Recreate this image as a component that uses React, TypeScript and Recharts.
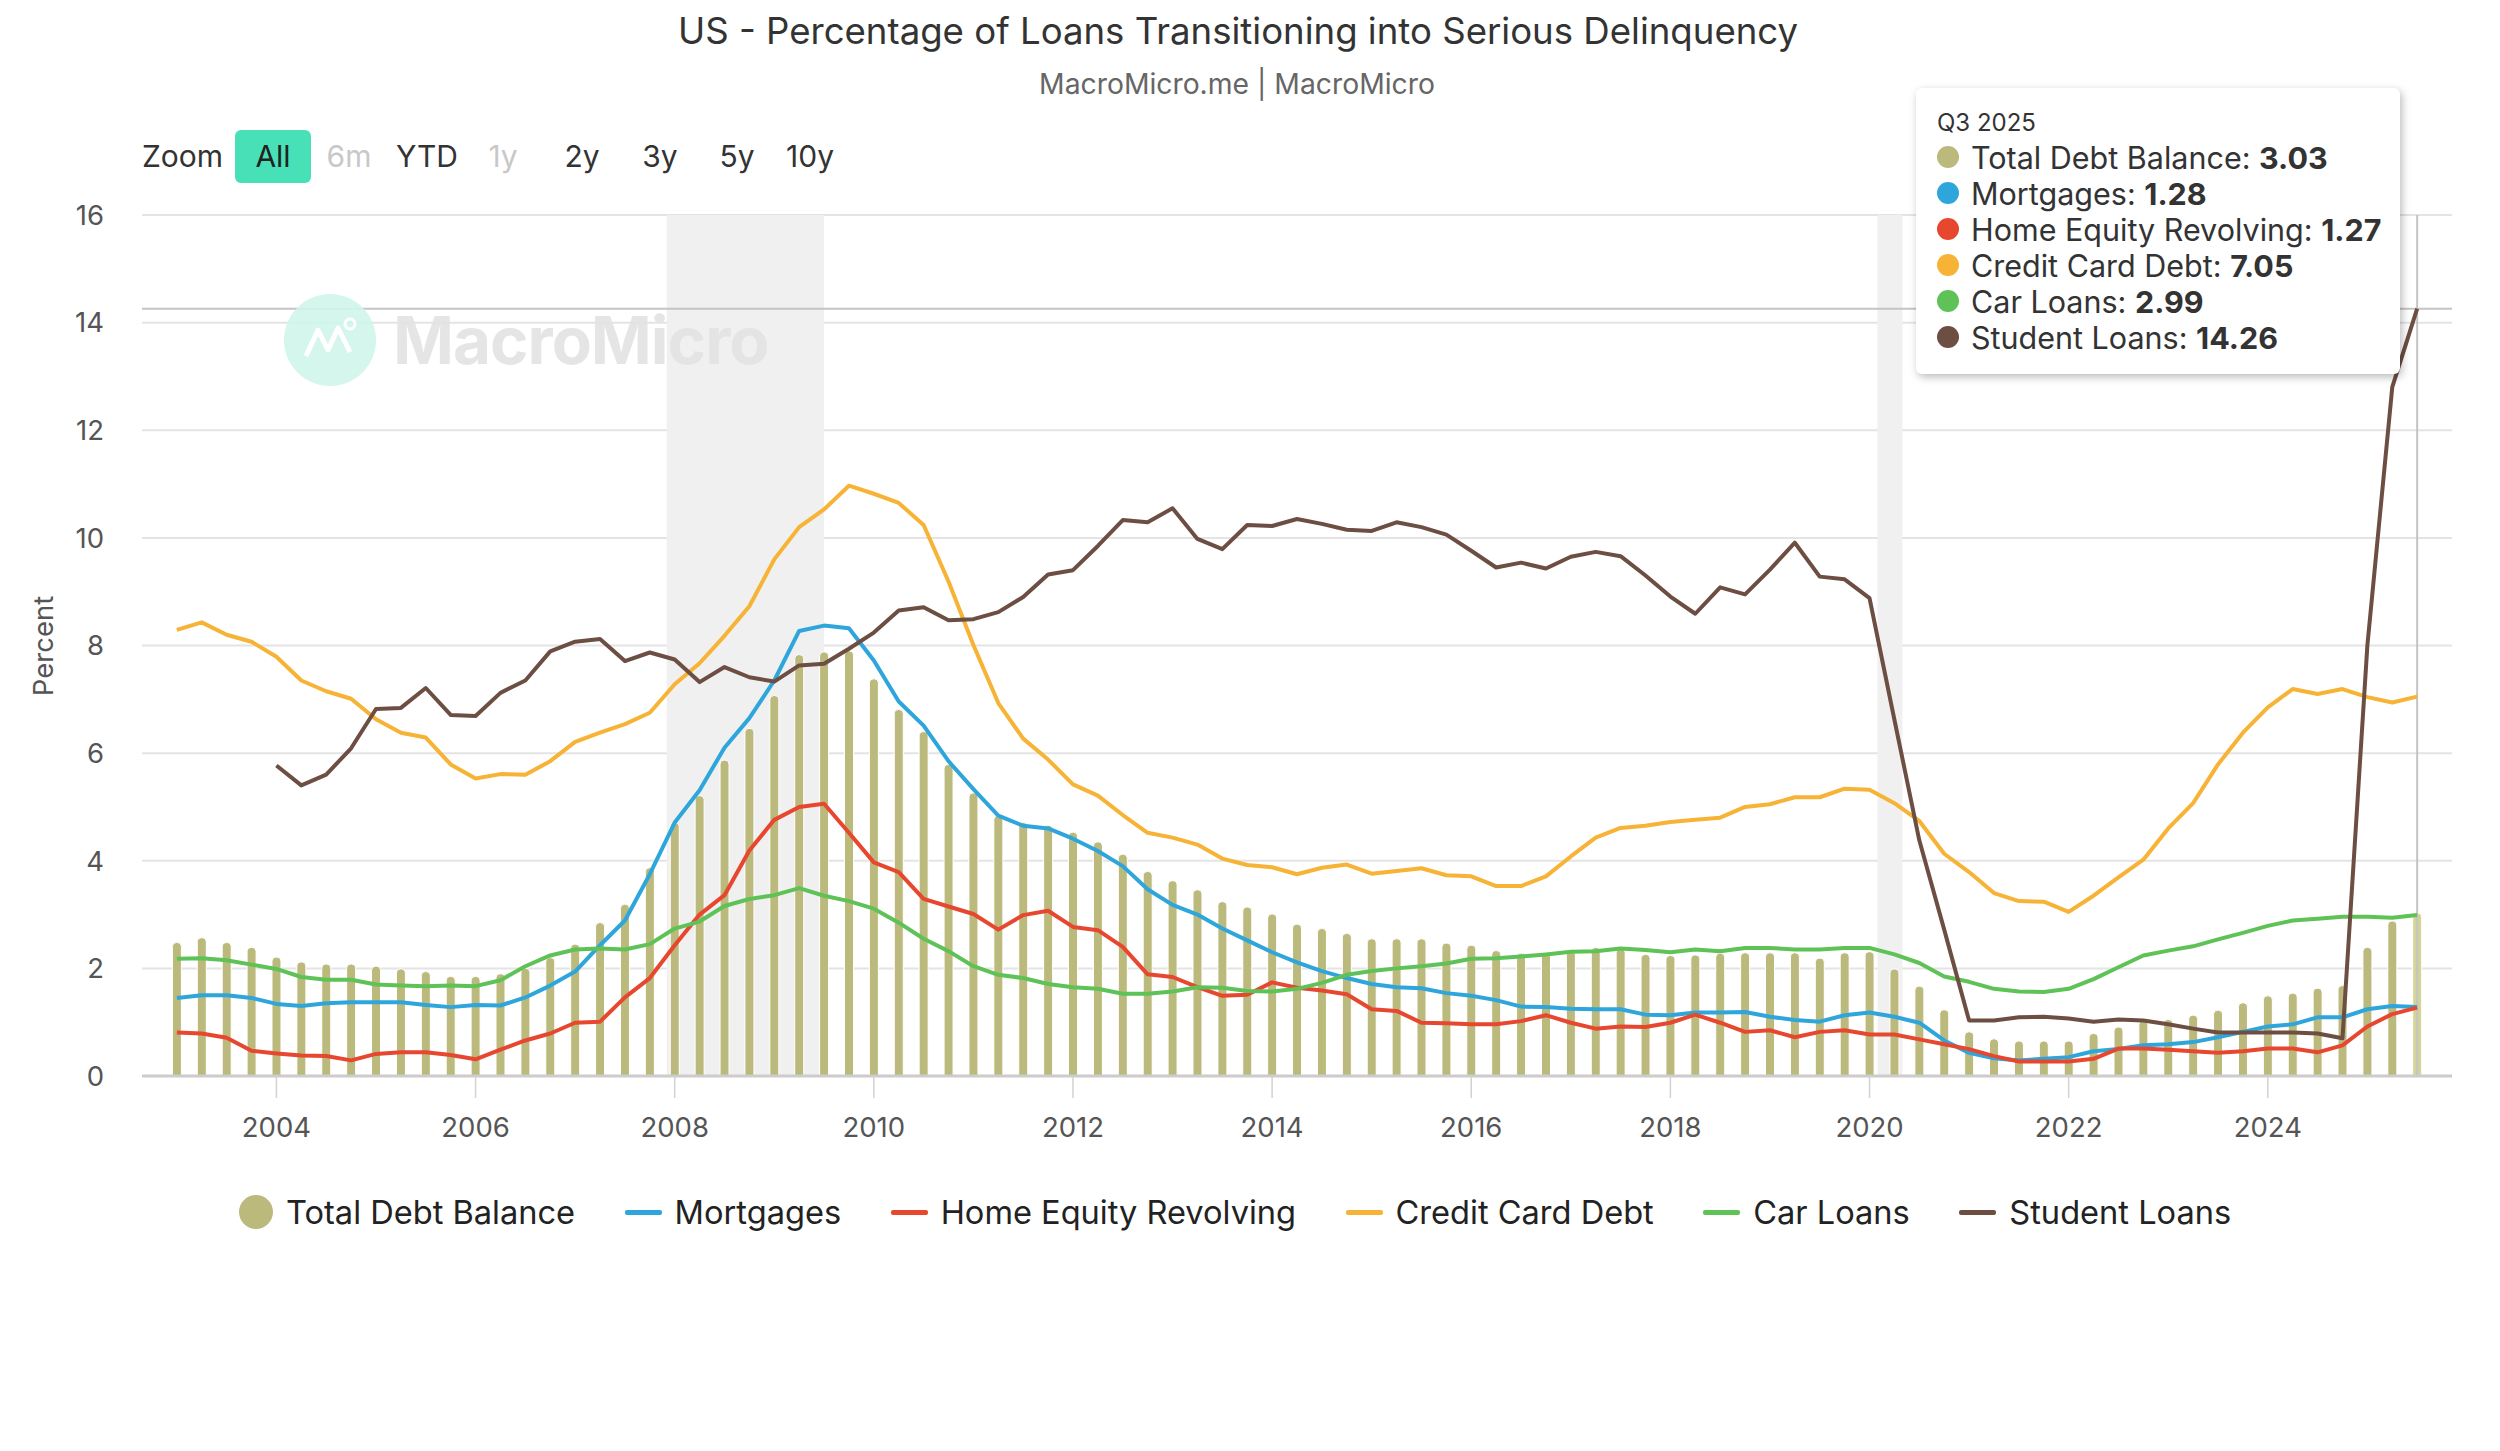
import React from "react";
import {
  ComposedChart,
  Bar,
  Line,
  XAxis,
  YAxis,
  CartesianGrid,
  ReferenceArea,
  ReferenceLine,
  Cell,
} from "recharts";

// quarterly series, Q1 2003 .. Q3 2025
const START_YEAR = 2003;

const totalDebt = [
  2.48, 2.57, 2.48, 2.39,
  2.21, 2.12, 2.08, 2.08,
  2.04, 1.99, 1.94, 1.85,
  1.85, 1.9, 2.0, 2.2,
  2.45, 2.85, 3.19, 3.87,
  4.71, 5.21, 5.87, 6.46,
  7.07, 7.83, 7.88, 7.9,
  7.38, 6.81, 6.4, 5.79,
  5.26, 4.84, 4.71, 4.66,
  4.53, 4.35, 4.12, 3.8,
  3.63, 3.46, 3.24, 3.14,
  3.01, 2.82, 2.74, 2.65,
  2.55, 2.55, 2.55, 2.47,
  2.43, 2.33, 2.28, 2.28,
  2.32, 2.39, 2.37, 2.26,
  2.24, 2.25, 2.28, 2.29,
  2.29, 2.29, 2.19, 2.29,
  2.31, 1.99, 1.67, 1.23,
  0.82, 0.69, 0.65, 0.65,
  0.65, 0.79, 0.91, 1.03,
  1.05, 1.13, 1.22, 1.36,
  1.49, 1.54, 1.63, 1.68,
  2.39, 2.88, 3.03,
];

const mortgages = [
  1.45, 1.5, 1.5, 1.45,
  1.34, 1.3, 1.35, 1.37,
  1.37, 1.37, 1.32, 1.28,
  1.32, 1.31, 1.46, 1.68,
  1.94, 2.43, 2.89, 3.75,
  4.71, 5.31, 6.1, 6.65,
  7.35, 8.27, 8.37, 8.32,
  7.72, 6.96, 6.51, 5.85,
  5.33, 4.84, 4.65, 4.6,
  4.41, 4.18, 3.9, 3.47,
  3.18, 3.0, 2.74, 2.52,
  2.3, 2.11, 1.95, 1.82,
  1.71, 1.65, 1.63, 1.54,
  1.49, 1.41, 1.29, 1.28,
  1.25, 1.24, 1.24, 1.14,
  1.13, 1.18, 1.18, 1.19,
  1.1, 1.04, 1.01, 1.13,
  1.18, 1.1, 0.99, 0.66,
  0.43, 0.33, 0.29, 0.32,
  0.35, 0.46, 0.5, 0.57,
  0.59, 0.63, 0.72, 0.82,
  0.92, 0.96, 1.09, 1.09,
  1.24, 1.3, 1.28,
];

const homeEquity = [
  0.81, 0.79, 0.71, 0.47,
  0.42, 0.38, 0.37, 0.29,
  0.41, 0.44, 0.44, 0.39,
  0.31, 0.49, 0.66, 0.79,
  0.99, 1.01, 1.46, 1.82,
  2.43, 3.0, 3.36, 4.19,
  4.76, 5.0, 5.06, 4.52,
  3.97, 3.79, 3.29, 3.15,
  3.01, 2.72, 2.99, 3.07,
  2.77, 2.71, 2.4, 1.89,
  1.84, 1.65, 1.49, 1.51,
  1.74, 1.64, 1.59, 1.52,
  1.24, 1.21, 0.99, 0.98,
  0.96, 0.96, 1.02, 1.13,
  0.99, 0.88, 0.92, 0.91,
  0.99, 1.14, 0.99, 0.82,
  0.85, 0.72, 0.82, 0.85,
  0.77, 0.77, 0.68, 0.59,
  0.5, 0.37, 0.27, 0.27,
  0.27, 0.32, 0.51, 0.51,
  0.49, 0.46, 0.43, 0.46,
  0.51, 0.51, 0.44, 0.57,
  0.92, 1.15, 1.27,
];

const creditCard = [
  8.29, 8.43, 8.2, 8.07,
  7.79, 7.35, 7.15, 7.01,
  6.63, 6.38, 6.29, 5.79,
  5.53, 5.61, 5.6, 5.85,
  6.21, 6.38, 6.54, 6.75,
  7.28, 7.67, 8.18, 8.73,
  9.6, 10.2, 10.53, 10.97,
  10.82, 10.65, 10.24, 9.19,
  8.01, 6.93, 6.27, 5.88,
  5.42, 5.21, 4.85, 4.52,
  4.43, 4.3, 4.04, 3.92,
  3.88, 3.75, 3.87, 3.93,
  3.76, 3.81, 3.86, 3.73,
  3.71, 3.53, 3.53, 3.71,
  4.08, 4.43, 4.61, 4.65,
  4.72, 4.76, 4.8, 5.0,
  5.05, 5.18, 5.18, 5.34,
  5.32, 5.07, 4.74, 4.13,
  3.79, 3.4, 3.25, 3.24,
  3.05, 3.35, 3.69, 4.02,
  4.6, 5.07, 5.79, 6.38,
  6.85, 7.19, 7.1, 7.19,
  7.04, 6.94, 7.05,
];

const carLoans = [
  2.18, 2.19, 2.15, 2.07,
  1.99, 1.84, 1.79, 1.79,
  1.7, 1.68, 1.67, 1.68,
  1.67, 1.78, 2.04, 2.24,
  2.35, 2.37, 2.35, 2.45,
  2.74, 2.87, 3.16, 3.29,
  3.36, 3.49, 3.35, 3.25,
  3.11, 2.85, 2.55, 2.32,
  2.04, 1.88, 1.82, 1.71,
  1.65, 1.62, 1.53, 1.53,
  1.57, 1.65, 1.64, 1.58,
  1.57, 1.62, 1.73, 1.88,
  1.95, 2.0, 2.04, 2.09,
  2.18, 2.19, 2.22, 2.26,
  2.31, 2.32, 2.37, 2.34,
  2.3, 2.35, 2.32, 2.38,
  2.38, 2.35, 2.35, 2.38,
  2.38, 2.26, 2.1, 1.85,
  1.75, 1.62, 1.57, 1.56,
  1.62, 1.8, 2.02, 2.24,
  2.33, 2.41, 2.54, 2.66,
  2.79, 2.89, 2.92, 2.96,
  2.96, 2.94, 2.99,
];

const studentLoans = [
  null, null, null, null,
  5.77, 5.4, 5.6, 6.09,
  6.82, 6.84, 7.21, 6.71,
  6.69, 7.12, 7.35, 7.89,
  8.07, 8.12, 7.71, 7.87,
  7.74, 7.32, 7.6, 7.41,
  7.33, 7.63, 7.66, 7.94,
  8.24, 8.65, 8.71, 8.47,
  8.49, 8.62, 8.9, 9.32,
  9.4, 9.85, 10.33, 10.29,
  10.55, 9.98, 9.79, 10.24,
  10.22, 10.35, 10.26, 10.15,
  10.13, 10.29, 10.2, 10.06,
  9.76, 9.45, 9.54, 9.43,
  9.65, 9.74, 9.66, 9.3,
  8.91, 8.59, 9.08, 8.95,
  9.41, 9.91, 9.28, 9.23,
  8.88, 6.62, 4.38, 2.72,
  1.03, 1.03, 1.09, 1.1,
  1.07, 1.01, 1.05, 1.03,
  0.96, 0.88, 0.81, 0.81,
  0.81, 0.81, 0.79, 0.7,
  8.0, 12.8, 14.26,
];

const yearTicks = [2004, 2006, 2008, 2010, 2012, 2014, 2016, 2018, 2020, 2022, 2024];
const percentTicks = [0, 2, 4, 6, 8, 10, 12, 14, 16];
const recessions = [
  [2007.92, 2009.5],
  [2020.08, 2020.33],
];
// range selector: label and centre x in the page
const zoomButtons = ["6m", "YTD", "1y", "2y", "3y", "5y", "10y"];
const zoomButtonCentres = [341, 419, 495, 574, 652, 729, 802];
const disabledButtons = ["6m", "1y"];

const SERIES = [
  { key: "total", name: "Total Debt Balance", color: "#bbba7c", values: totalDebt, bar: true },
  { key: "mortgages", name: "Mortgages", color: "#2fa6db", values: mortgages },
  { key: "homeEquity", name: "Home Equity Revolving", color: "#e8472f", values: homeEquity },
  { key: "creditCard", name: "Credit Card Debt", color: "#f6b336", values: creditCard },
  { key: "carLoans", name: "Car Loans", color: "#5fc257", values: carLoans },
  { key: "studentLoans", name: "Student Loans", color: "#6d4e43", values: studentLoans },
];

const last = totalDebt.length - 1;
const quarterLabels = totalDebt.map(
  (_, i) => `Q${(i % 4) + 1} ${START_YEAR + Math.floor(i / 4)}`
);

const data = totalDebt.map((_, i) => {
  const row: Record<string, number | string | null> = {
    x: START_YEAR + i * 0.25,
    quarter: quarterLabels[i],
  };
  for (const s of SERIES) row[s.key] = s.values[i];
  return row;
});

const FONT = "Inter, 'Noto Sans', 'Liberation Sans', sans-serif";

function Watermark() {
  return (
    <div
      style={{
        position: "absolute",
        left: 276,
        top: 286,
        display: "flex",
        alignItems: "center",
        gap: 17,
        opacity: 0.9,
        pointerEvents: "none",
      }}
    >
      <svg width={92} height={92}>
        <circle cx={46} cy={46} r={46} fill="#d0f6eb" />
        <polyline
          points="22,62 34,36 44,56 54,34 66,58"
          fill="none"
          stroke="#fff"
          strokeWidth={5}
          strokeLinejoin="round"
        />
        <circle cx={66} cy={30} r={5} fill="none" stroke="#fff" strokeWidth={3} />
      </svg>
      <span style={{ fontSize: 65.5, fontWeight: 700, color: "#e3e3e3", letterSpacing: -1 }}>
        MacroMicro
      </span>
    </div>
  );
}

function ValueTooltip() {
  return (
    <div
      style={{
        position: "absolute",
        left: 1908,
        top: 80,
        width: 484,
        height: 286,
        background: "#fff",
        borderRadius: 6,
        boxShadow: "2px 3px 8px rgba(0,0,0,0.28)",
        boxSizing: "border-box",
        padding: "20px 0 0 21px",
        color: "#333",
      }}
    >
      <div style={{ fontSize: 24, lineHeight: "30px", marginBottom: 1 }}>
        {quarterLabels[last]}
      </div>
      {SERIES.map((s) => (
        <div
          key={s.key}
          style={{ display: "flex", alignItems: "center", height: 36, fontSize: 30.5 }}
        >
          <span
            style={{
              width: 22,
              height: 22,
              borderRadius: 11,
              background: s.color,
              marginRight: 12,
              flex: "none",
            }}
          />
          <span style={{ whiteSpace: "nowrap" }}>
            {s.name}: <b>{Number(s.values[last]).toFixed(2)}</b>
          </span>
        </div>
      ))}
    </div>
  );
}

function SeriesLegend() {
  return (
    <div
      style={{
        position: "absolute",
        left: 231,
        top: 1184,
        display: "flex",
        alignItems: "center",
        gap: 49.5,
        fontSize: 32.6,
        color: "#222",
      }}
    >
      {SERIES.map((s) => (
        <div key={s.key} style={{ display: "flex", alignItems: "center", gap: 13 }}>
          {s.bar ? (
            <span
              style={{ width: 34, height: 34, borderRadius: 17, background: s.color }}
            />
          ) : (
            <span style={{ width: 37, height: 5, borderRadius: 2, background: s.color }} />
          )}
          <span style={{ whiteSpace: "nowrap" }}>{s.name}</span>
        </div>
      ))}
    </div>
  );
}

export default function App() {
  return (
    <div style={{ position: "relative", width: 2484, height: 1435, fontFamily: FONT }}>
      <div
        style={{
          position: "absolute",
          left: 0,
          width: 2460,
          top: 2,
          textAlign: "center",
          fontSize: 36.6,
          lineHeight: "42px",
          color: "#333",
          whiteSpace: "nowrap",
        }}
      >
        US - Percentage of Loans Transitioning into Serious Delinquency
      </div>
      <div
        style={{
          position: "absolute",
          left: 0,
          width: 2458,
          top: 60,
          textAlign: "center",
          fontSize: 28.3,
          lineHeight: "32px",
          color: "#666",
          whiteSpace: "nowrap",
        }}
      >
        MacroMicro.me | MacroMicro
      </div>

      <div
        style={{
          position: "absolute",
          left: 134,
          top: 122,
          height: 53,
          lineHeight: "53px",
          fontSize: 30,
          color: "#333",
        }}
      >
        Zoom
      </div>
      <div
        style={{
          position: "absolute",
          left: 227,
          top: 122,
          width: 76,
          height: 53,
          lineHeight: "53px",
          textAlign: "center",
          borderRadius: 6,
          background: "#47e0b7",
          fontSize: 30,
          color: "#222",
        }}
      >
        All
      </div>
      {zoomButtons.map((b, i) => (
        <div
          key={b}
          style={{
            position: "absolute",
            left: zoomButtonCentres[i] - 40,
            width: 80,
            top: 122,
            height: 53,
            lineHeight: "53px",
            textAlign: "center",
            fontSize: 30,
            color: disabledButtons.includes(b) ? "#c8c8c8" : "#333",
          }}
        >
          {b}
        </div>
      ))}

      <div
        style={{
          position: "absolute",
          left: 35,
          top: 638,
          transform: "translate(-50%, -50%) rotate(-90deg)",
          fontSize: 27.5,
          color: "#555",
          whiteSpace: "nowrap",
        }}
      >
        Percent
      </div>

      <ComposedChart
        width={2484}
        height={1148}
        data={data}
        margin={{ top: 207, right: 40, bottom: 0, left: 0 }}
      >
        {recessions.map(([a, b]) => (
          <ReferenceArea
            key={a}
            x1={a}
            x2={b}
            fill="#f0f0f0"
            fillOpacity={1}
            stroke="none"
            ifOverflow="hidden"
          />
        ))}
        <CartesianGrid vertical={false} stroke="#e4e4e4" strokeWidth={2} />
        <XAxis
          type="number"
          dataKey="x"
          domain={[2002.65, 2025.85]}
          ticks={yearTicks}
          interval={0}
          allowDataOverflow
          height={80}
          tick={{ fontSize: 27.5, fill: "#555" }}
          tickLine={{ stroke: "#d2d2d2", strokeWidth: 1.5 }}
          tickSize={22}
          tickMargin={19}
          axisLine={{ stroke: "#cccccc", strokeWidth: 3 }}
        />
        <YAxis
          domain={[0, 16]}
          ticks={percentTicks}
          interval={0}
          width={134}
          axisLine={false}
          tickLine={false}
          tickSize={0}
          tickMargin={38}
          tick={{ fontSize: 27.5, fill: "#555" }}
        />
        <ReferenceLine y={studentLoans[last] as number} stroke="#c4c4c4" strokeWidth={2} />
        <ReferenceLine x={data[last].x as number} stroke="#c4c4c4" strokeWidth={2} />
        <Bar
          dataKey="total"
          name="Total Debt Balance"
          barSize={9}
          fill="#bbba7c"
          stroke="#ffffff"
          strokeWidth={1}
          radius={[4, 4, 0, 0]}
          isAnimationActive={false}
        >
          {data.map((_, i) => (
            <Cell key={i} fill={i === last ? "#d4d496" : "#bbba7c"} />
          ))}
        </Bar>
        {SERIES.filter((s) => !s.bar).map((s) => (
          <Line
            key={s.key}
            type="linear"
            dataKey={s.key}
            name={s.name}
            stroke={s.color}
            strokeWidth={4}
            strokeLinejoin="round"
            dot={false}
            activeDot={false}
            isAnimationActive={false}
          />
        ))}
      </ComposedChart>

      <Watermark />
      <ValueTooltip />
      <SeriesLegend />
    </div>
  );
}
